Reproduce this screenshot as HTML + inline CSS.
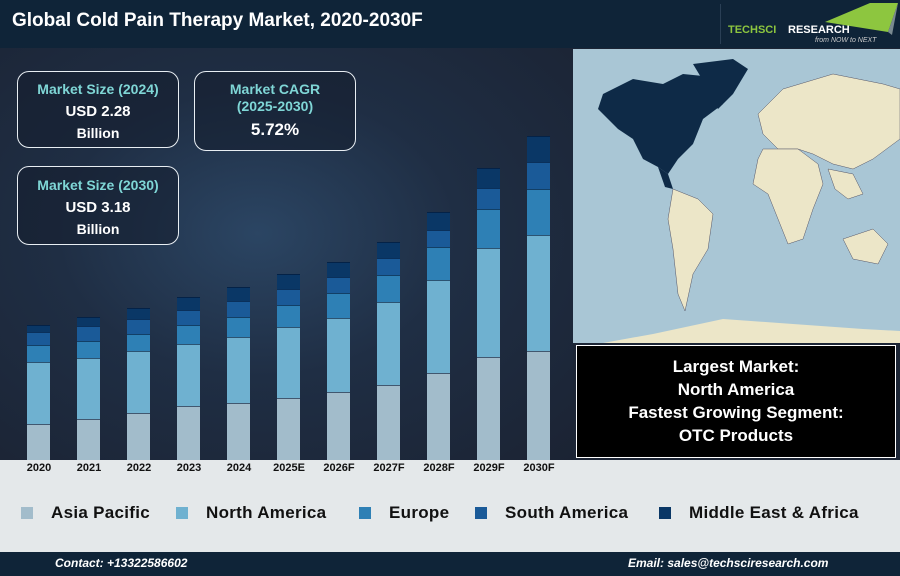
<!DOCTYPE html>
<html><head><style>
body{margin:0;width:900px;height:576px;overflow:hidden;font-family:"Liberation Sans",sans-serif;position:relative;background:#1c2535}
.hdr{position:absolute;left:0;top:0;width:900px;height:48px;background:#0f2438}
.hdr h1{position:absolute;left:12px;top:10px;margin:0;color:#fff;font-size:19px;font-weight:bold}
.chart{position:absolute;left:0;top:48px;width:573px;height:412px;background:radial-gradient(ellipse at 45% 45%,#2b4563 0%,#1f2e44 45%,#1b2333 100%)}
.box{position:absolute;border:1.5px solid #e8eef3;border-radius:12px;background:rgba(20,30,45,.55);text-align:center;color:#fff;font-weight:bold}
.box .t{color:#7fd6d6;font-size:14px}
.bar{position:absolute;width:23px}
.yr{position:absolute;top:462px;width:50px;text-align:center;font-size:11px;font-weight:bold;color:#111;z-index:5}
.leg{position:absolute;top:460px;left:0;width:900px;height:92px;background:#e4e8ea}
.li{position:absolute;top:43px;font-size:17px;font-weight:bold;color:#111;letter-spacing:.3px}
.li i{position:absolute;left:-30px;top:4px;width:12px;height:12px}
.ftr{position:absolute;top:552px;left:0;width:900px;height:24px;background:#0f2438;color:#fff;font-size:12px;font-weight:bold;font-style:italic}
</style></head><body>
<div class="hdr"><h1>Global Cold Pain Therapy Market, 2020-2030F</h1>
<div style="position:absolute;left:720px;top:4px;width:1px;height:40px;background:#2a3f55"></div>
<svg style="position:absolute;left:720px;top:0" width="180" height="48"><polygon points="150,3 178,3 168,32 105,22" fill="#8dc63f"/><polygon points="168,32 178,3 172,35" fill="#7a8a90"/>
<text x="8" y="33" font-family="Liberation Sans" font-weight="bold" font-size="11" fill="#8dc63f">TECHSCI</text><text x="68" y="33" font-family="Liberation Sans" font-weight="bold" font-size="11" fill="#fff">RESEARCH</text><text x="95" y="42" font-family="Liberation Sans" font-style="italic" font-size="7" fill="#ccc">from NOW to NEXT</text></svg></div>
<div class="chart"></div>
<div class="box" style="left:17px;top:71px;width:160px;height:75px"><div class="t" style="margin-top:9px">Market Size (2024)</div><div style="font-size:15px;margin-top:6px">USD 2.28</div><div style="font-size:14px;margin-top:5px">Billion</div></div>
<div class="box" style="left:194px;top:71px;width:160px;height:78px"><div class="t" style="margin-top:9px;line-height:17px">Market CAGR<br>(2025-2030)</div><div style="font-size:17px;margin-top:5px">5.72%</div></div>
<div class="box" style="left:17px;top:166px;width:160px;height:77px"><div class="t" style="margin-top:10px">Market Size (2030)</div><div style="font-size:15px;margin-top:6px">USD 3.18</div><div style="font-size:14px;margin-top:5px">Billion</div></div>
<div id="bars"></div>
<svg style="position:absolute;left:573px;top:49px" width="327" height="294">
<rect width="327" height="294" fill="#a9c6d5"/>
<path d="M30,45 L60,30 L90,35 L110,25 L140,28 L150,55 L130,70 L120,95 L105,110 L95,125 L85,118 L70,110 L60,90 L45,80 L35,70 L25,60 Z" fill="#0e2a47"/>
<path d="M120,15 L160,10 L175,20 L160,45 L145,60 L135,40 Z" fill="#0e2a47"/>
<path d="M85,118 L95,125 L100,140 L92,138 Z" fill="#0e2a47"/>
<path d="M100,140 L125,150 L140,165 L135,200 L120,225 L112,262 L105,245 L100,200 L95,170 Z" fill="#ece6c8" stroke="#556" stroke-width=".5"/>
<path d="M185,65 L210,40 L260,25 L310,35 L327,40 L327,90 L300,110 L280,120 L260,115 L240,105 L225,100 L205,100 L190,85 Z" fill="#ece6c8" stroke="#556" stroke-width=".5"/>
<path d="M190,100 L225,100 L245,115 L250,135 L240,160 L230,190 L215,195 L205,170 L195,145 L180,135 L185,110 Z" fill="#ece6c8" stroke="#556" stroke-width=".5"/>
<path d="M255,120 L280,125 L290,145 L275,150 L262,140 Z" fill="#ece6c8" stroke="#556" stroke-width=".5"/>
<path d="M270,190 L300,180 L315,195 L305,215 L280,210 Z" fill="#ece6c8" stroke="#556" stroke-width=".5"/>
<path d="M30,294 L80,285 L150,270 L220,275 L290,280 L327,282 L327,294 Z" fill="#ece6c8"/>
</svg>
<div style="position:absolute;left:576px;top:345px;width:320px;height:113px;background:#000;border:1px solid #fff;color:#fff;font-weight:bold;font-size:17px;text-align:center;line-height:23px;padding-top:9px;box-sizing:border-box">Largest Market:<br>North America<br>Fastest Growing Segment:<br>OTC Products</div>
<div class="leg">
<div class="li" style="left:51px"><i style="background:#a2bccb"></i>Asia Pacific</div>
<div class="li" style="left:206px"><i style="background:#6fb1d0"></i>North America</div>
<div class="li" style="left:389px"><i style="background:#2e80b5"></i>Europe</div>
<div class="li" style="left:505px"><i style="background:#1a5a98"></i>South America</div>
<div class="li" style="left:689px"><i style="background:#0a3766"></i>Middle East &amp; Africa</div>
</div>
<div class="ftr"><span style="position:absolute;left:55px;top:4px">Contact: +13322586602</span><span style="position:absolute;left:628px;top:4px">Email: sales@techsciresearch.com</span></div>
<div id="yrs"></div>
<script>
var d=[[325,332,345,362,424],[317,326,341,358,419],[308,319,334,351,413],[297,310,325,344,406],[287,301,317,337,403],[274,289,305,327,398],[262,277,293,318,392],[242,258,275,302,385],[212,230,247,280,373],[168,188,209,248,357],[136,162,189,235,351]];
var c=["#0a3766","#1a5a98","#2e80b5","#6fb1d0","#a2bccb"];
var y=["2020","2021","2022","2023","2024","2025E","2026F","2027F","2028F","2029F","2030F"];
var h="",g="";
d.forEach(function(b,i){var x=27+50*i;for(var k=0;k<5;k++){var t=b[k],e=k<4?b[k+1]:460;h+='<div class="bar" style="left:'+x+'px;top:'+t+'px;height:'+(e-t)+'px;background:'+c[k]+';box-shadow:inset 0 1px 0 rgba(0,20,50,.6)"></div>';}
g+='<div class="yr" style="left:'+(x-13)+'px">'+y[i]+'</div>';});
document.getElementById("bars").innerHTML=h;
document.getElementById("yrs").innerHTML=g;
</script>
</body></html>
